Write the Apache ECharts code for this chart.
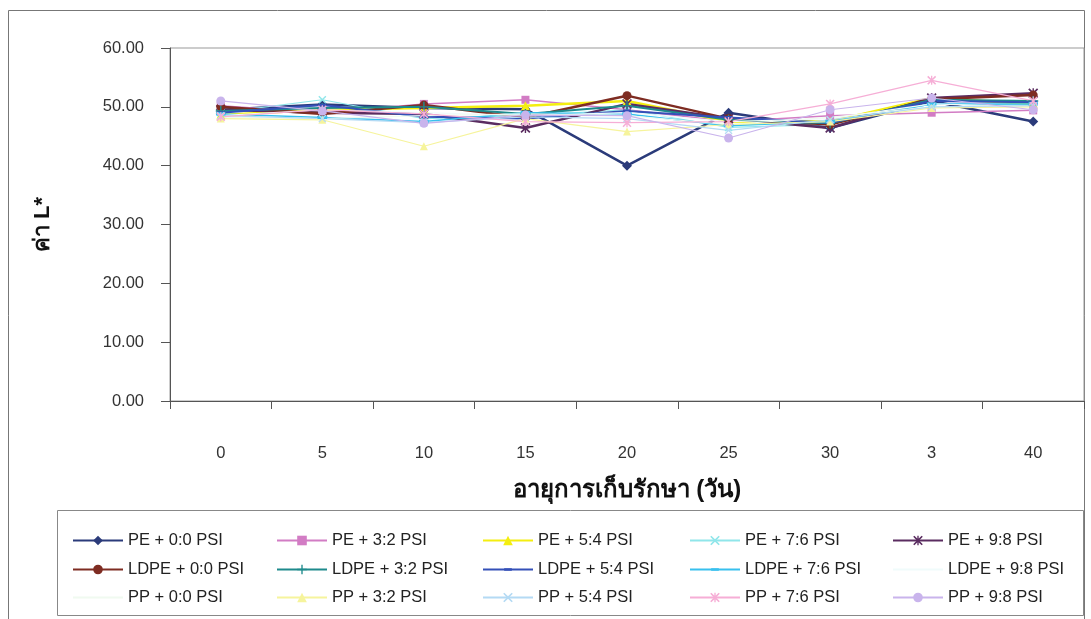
<!DOCTYPE html>
<html>
<head>
<meta charset="utf-8">
<style>
  html, body { margin: 0; padding: 0; background: #fff; }
  #chart { width: 1091px; height: 619px; }
</style>
<script src="https://cdn.jsdelivr.net/npm/echarts@6/dist/echarts.min.js"></script>
</head>
<body>
<div id="chart"></div>
<script>
// Storage days (the "3" label is kept as printed on the axis)
const days = ['0', '5', '10', '15', '20', '25', '30', '3', '40'];
const yTicks = [0, 10, 20, 30, 40, 50, 60];

// L* values per packaging / pressure treatment
const pe00   = [49.5, 50.4, 49.8, 49.6, 40.0, 49.0, 46.4, 51.0, 47.5];
const pe32   = [50.2, 49.0, 50.5, 51.2, 49.5, 47.5, 48.5, 49.0, 49.4];
const pe54   = [48.6, 49.5, 49.8, 50.2, 51.0, 47.5, 47.5, 51.5, 50.5];
const pe76   = [49.0, 51.2, 48.0, 48.5, 49.5, 46.5, 47.0, 50.5, 50.3];
const pe98   = [49.5, 49.0, 48.8, 46.4, 50.5, 48.0, 46.4, 51.5, 52.3];
const ldpe00 = [50.0, 48.8, 50.3, 48.2, 51.9, 48.0, 47.0, 51.3, 52.0];
const ldpe32 = [49.3, 49.8, 50.0, 48.8, 50.2, 47.8, 47.2, 51.2, 51.0];
const ldpe54 = [49.0, 50.3, 48.3, 48.0, 49.3, 48.2, 47.3, 51.0, 50.8];
const ldpe76 = [48.8, 48.2, 47.5, 49.0, 48.8, 46.8, 47.5, 50.5, 50.5];
const ldpe98 = [48.5, 49.5, 49.0, 48.5, 49.0, 47.5, 48.0, 50.5, 50.0];
const pp00   = [48.2, 48.0, 48.5, 48.8, 48.5, 47.0, 48.2, 50.0, 50.2];
const pp32   = [48.0, 47.8, 43.3, 48.0, 45.8, 47.0, 47.5, 49.8, 50.0];
const pp54   = [48.5, 48.0, 47.3, 48.3, 48.0, 46.0, 47.8, 50.0, 50.2];
const pp76   = [48.3, 49.5, 48.8, 47.5, 47.3, 47.5, 50.5, 54.5, 51.0];
const pp98   = [51.0, 49.3, 47.2, 48.6, 48.5, 44.7, 49.5, 51.5, 49.5];

const seriesNames = [
  'PE + 0:0 PSI', 'PE + 3:2 PSI', 'PE + 5:4 PSI', 'PE + 7:6 PSI', 'PE + 9:8 PSI',
  'LDPE + 0:0 PSI', 'LDPE + 3:2 PSI', 'LDPE + 5:4 PSI', 'LDPE + 7:6 PSI', 'LDPE + 9:8 PSI',
  'PP + 0:0 PSI', 'PP + 3:2 PSI', 'PP + 5:4 PSI', 'PP + 7:6 PSI', 'PP + 9:8 PSI'
];
const seriesData = [pe00, pe32, pe54, pe76, pe98, ldpe00, ldpe32, ldpe54, ldpe76, ldpe98, pp00, pp32, pp54, pp76, pp98];

// Marker shapes (the dash keeps a square bounding box through two tiny corner points)
const X_MARK = 'path://M0,1.2 L1.2,0 L5,3.8 L8.8,0 L10,1.2 L6.2,5 L10,8.8 L8.8,10 L5,6.2 L1.2,10 L0,8.8 L3.8,5 Z';
const STAR_MARK = 'path://M0,1.2 L1.2,0 L5,3.8 L8.8,0 L10,1.2 L6.2,5 L10,8.8 L8.8,10 L5,6.2 L1.2,10 L0,8.8 L3.8,5 Z M4.3,0 L5.7,0 L5.7,10 L4.3,10 Z';
const PLUS_MARK = 'path://M4.3,0 L5.7,0 L5.7,4.3 L10,4.3 L10,5.7 L5.7,5.7 L5.7,10 L4.3,10 L4.3,5.7 L0,5.7 L0,4.3 L4.3,4.3 Z';
const DASH_MARK = 'path://M0,0 L0.01,0 L0,0.01 Z M10,10 L9.99,10 L10,9.99 Z M1,3.6 L9,3.6 L9,6.4 L1,6.4 Z';

const styles = [
  { color: '#2b3b7a', width: 2.5, symbol: 'diamond',  size: 10 },
  { color: '#d27cc4', width: 1.5, symbol: 'rect',     size: 8 },
  { color: '#f4ee10', width: 2.5, symbol: 'triangle', size: 9 },
  { color: '#90e6ea', width: 1.2, symbol: X_MARK,     size: 8 },
  { color: '#5a2c60', width: 2.5, symbol: STAR_MARK,  size: 10 },
  { color: '#7e2c22', width: 2.5, symbol: 'circle',   size: 9 },
  { color: '#1e8a8c', width: 2,   symbol: PLUS_MARK,  size: 10 },
  { color: '#3450b8', width: 2,   symbol: DASH_MARK,  size: 10 },
  { color: '#38c0ee', width: 1.5, symbol: DASH_MARK,  size: 12 },
  { color: '#f0fbfb', width: 1.2, symbol: 'none',     size: 0 },
  { color: '#f0faf0', width: 1.2, symbol: 'none',     size: 0 },
  { color: '#f6f49c', width: 1.2, symbol: 'triangle', size: 8 },
  { color: '#b4daf4', width: 1.2, symbol: X_MARK,     size: 8 },
  { color: '#f6aed6', width: 1.2, symbol: STAR_MARK,  size: 9 },
  { color: '#c9b4ec', width: 1.2, symbol: 'circle',   size: 9 }
];

const FONT = '"Liberation Sans", Arial, "Noto Sans", sans-serif';

const series = seriesNames.map((name, i) => ({
  name: name,
  type: 'line',
  data: seriesData[i],
  symbol: styles[i].symbol,
  symbolSize: styles[i].size,
  showSymbol: styles[i].symbol !== 'none',
  lineStyle: { color: styles[i].color, width: styles[i].width },
  itemStyle: { color: styles[i].color },
  emphasis: { disabled: true },
  animation: false
}));

// One legend block per entry, laid out as a 5 x 3 table
const legendCols = [72, 276, 482, 689, 892];
const legendRows = [532, 561, 589];
const legends = seriesNames.map((name, i) => ({
  data: [styles[i].symbol === 'none'
    ? { name: name, itemStyle: { opacity: 0 } }
    : { name: name }],
  left: legendCols[i % 5],
  top: legendRows[Math.floor(i / 5)],
  itemWidth: 50,
  itemHeight: 12,
  itemGap: 0,
  padding: 0,
  selectedMode: false,
  textStyle: { fontFamily: FONT, fontSize: 16.5, color: '#222' }
}));

const chart = echarts.init(document.getElementById('chart'), null, { renderer: 'canvas' });
chart.setOption({
  backgroundColor: '#ffffff',
  animation: false,
  graphic: [
    { type: 'rect', shape: { x: 8.5, y: 10.5, width: 1076, height: 620 },
      style: { fill: 'none', stroke: '#777', lineWidth: 1 }, silent: true, z: -1 },
    { type: 'rect', shape: { x: 57.5, y: 510.5, width: 1026, height: 105 },
      style: { fill: 'none', stroke: '#888', lineWidth: 1 }, silent: true, z: -1 }
  ],
  grid: {
    left: 170, top: 48, right: 7, bottom: 218,
    show: true, borderColor: '#999', borderWidth: 1, backgroundColor: 'transparent'
  },
  legend: legends,
  xAxis: {
    type: 'category',
    data: days,
    boundaryGap: true,
    name: 'อายุการเก็บรักษา (วัน)',
    nameLocation: 'middle',
    nameGap: 77,
    nameTextStyle: { fontFamily: FONT, fontSize: 24, fontWeight: 'bold', color: '#111' },
    axisLine: { lineStyle: { color: '#555', width: 1 } },
    axisTick: { show: true, interval: 0, length: 8, lineStyle: { color: '#555' } },
    axisLabel: { interval: 0, margin: 44, fontFamily: FONT, fontSize: 16.5, color: '#333' },
    splitLine: { show: false }
  },
  yAxis: {
    type: 'value',
    min: yTicks[0],
    max: yTicks[yTicks.length - 1],
    interval: 10,
    name: 'ค่า L*',
    nameLocation: 'middle',
    nameGap: 116,
    nameRotate: 90,
    nameTextStyle: { fontFamily: FONT, fontSize: 22, fontWeight: 'bold', color: '#111' },
    axisLine: { show: true, lineStyle: { color: '#555', width: 1 } },
    axisTick: { show: true, length: 9, lineStyle: { color: '#555' } },
    axisLabel: { margin: 26, fontFamily: FONT, fontSize: 16.5, color: '#333',
      formatter: v => v.toFixed(2) },
    splitLine: { show: false }
  },
  series: series
});
</script>
</body>
</html>
